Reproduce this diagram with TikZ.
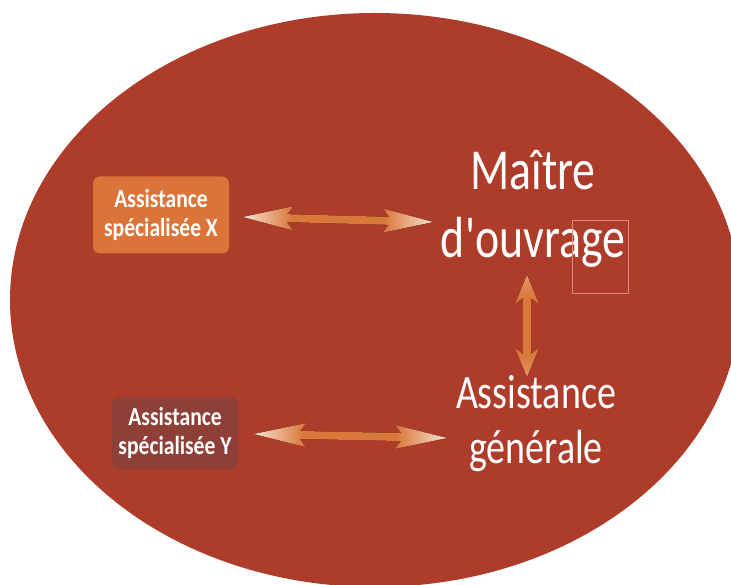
\documentclass[tikz,border=0pt]{standalone}
\usepackage{fontspec}
\setmainfont{Carlito}
\newfontfamily\titlefont[FakeStretch=0.79]{Carlito}
\newfontfamily\boxfont[FakeStretch=0.83]{Carlito}
\usetikzlibrary{calc}

\definecolor{bgred}{HTML}{AE3C2B}
\definecolor{boxorange}{HTML}{DC743A}
\definecolor{boxbrown}{HTML}{8E4038}
\definecolor{arroworange}{HTML}{DA783A}
\definecolor{arrowtip}{HTML}{F8E2D2}
\definecolor{framepink}{HTML}{D98C7E}

\pgfdeclarehorizontalshading{tipfade}{100bp}{color(0bp)=(arrowtip); color(25bp)=(arrowtip); color(38bp)=(arroworange); color(62bp)=(arroworange); color(75bp)=(arrowtip); color(100bp)=(arrowtip)}
\pgfdeclarehorizontalshading{tipfadev}{100bp}{color(0bp)=(arroworange!70!arrowtip); color(25bp)=(arroworange!70!arrowtip); color(36bp)=(arroworange); color(64bp)=(arroworange); color(75bp)=(arroworange!70!arrowtip); color(100bp)=(arroworange!70!arrowtip)}

\tikzset{
  spbox/.style={rounded corners=7pt, text=white, align=center, inner sep=0pt,
    font=\boxfont\bfseries\fontsize{26}{29}\selectfont},
  bigtext/.style={text=white, align=center, inner sep=0pt}
}

% double arrow with a fat shaft: tips #1 and #2, head length #3, shading #4
\newcommand{\fatarrow}[4]{%
  \coordinate (hA) at ($(#1)!#3!(#2)$);
  \coordinate (hB) at ($(#2)!#3!(#1)$);
  \coordinate (sA) at ($(#1)!#3-6pt!(#2)$);
  \coordinate (sB) at ($(#2)!#3-6pt!(#1)$);
  \fill[#4] (#1) -- ($(hA)!12pt!90:(#2)$) -- ($(sA)!4pt!90:(#2)$)
    -- ($(sB)!4pt!-90:(#1)$) -- ($(hB)!12pt!-90:(#1)$) -- (#2)
    -- ($(hB)!12pt!90:(#1)$) -- ($(sB)!4pt!90:(#1)$)
    -- ($(sA)!4pt!-90:(#2)$) -- ($(hA)!12pt!-90:(#2)$) -- cycle;
}

\begin{document}
\begin{tikzpicture}[x=1pt, y=-1pt]
\useasboundingbox (0,0) rectangle (731,585);
\begin{scope}
\clip (0,0) rectangle (731,585);
\fill[bgred] (375,300) ellipse [x radius=365, y radius=287];
\end{scope}

\node[spbox, fill=boxorange, minimum width=136pt, minimum height=77pt] (specX) at (161,215) {Assistance\\spécialisée X};
\node[spbox, fill=boxbrown, minimum width=126pt, minimum height=72pt] (specY) at (175,433) {Assistance\\spécialisée Y};
\node[bigtext, anchor=base, font=\titlefont\fontsize{58}{68}\selectfont] (moa) at (533,258) {Maître\\d'ouvrage};
\node[bigtext, anchor=base, font=\titlefont\fontsize{48}{55}\selectfont] (amo) at (536,463) {Assistance\\générale};

\draw[framepink, line width=0.8pt] (572,220) rectangle (628,293);

% arrow ends
\coordinate (xl) at (243,217);
\coordinate (xr) at (433,222);
\coordinate (yl) at (254,434);
\coordinate (yr) at (447,438);
\coordinate (mt) at (527,275);
\coordinate (mb) at (527,377);

\fatarrow{xl}{xr}{50pt}{shading=tipfade}
\fatarrow{yl}{yr}{52pt}{shading=tipfade}
\fatarrow{mt}{mb}{29pt}{shading=tipfadev, shading angle=90}
\end{tikzpicture}
\end{document}
